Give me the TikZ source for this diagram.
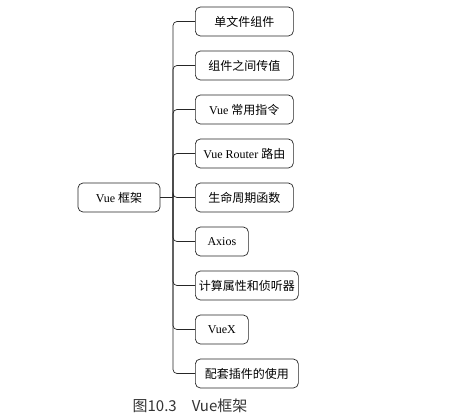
\documentclass[tikz,border=0pt]{standalone}
\usepackage{fontspec}
\setmainfont{Liberation Serif}
\newfontfamily\cjk{Noto Sans CJK SC}
\usetikzlibrary{positioning}

\begin{document}
\begin{tikzpicture}[x=1pt, y=-1pt, line width=0.7pt, draw=black!85,
  box/.style={draw, rounded corners=5pt, minimum height=29pt, inner sep=0pt,
    font=\fontsize{12}{14}\selectfont},
  link/.style={rounded corners=4pt}]
\useasboundingbox (0,0) rectangle (450,418);

\def\trunk{173}

\node[box, minimum width=82pt] (vue) at (119,197.5) {Vue {\cjk 框架}};
\coordinate (fork) at (\trunk,197.5);
\draw (vue.east) -- (fork);

\foreach \w/\txt [count=\i] in {98/{\cjk 单文件组件}, 98/{\cjk 组件之间传值},
    98/{Vue {\cjk 常用指令}}, 98/{Vue Router {\cjk 路由}}, 98/{\cjk 生命周期函数},
    53/{Axios}, 103/{\cjk 计算属性和侦听器}, 53/{VueX}, 103/{\cjk 配套插件的使用}}
{
  \node[box, anchor=west, minimum width=\w pt] (item\i) at (195,{21.5+44*(\i-1)}) {\txt};
  \draw[link] (fork) |- (item\i.west);
}

\node[font=\cjk\fontsize{15}{18}\selectfont, text=black!80] (caption) at (190,406) {图10.3\quad Vue框架};

\end{tikzpicture}
\end{document}
